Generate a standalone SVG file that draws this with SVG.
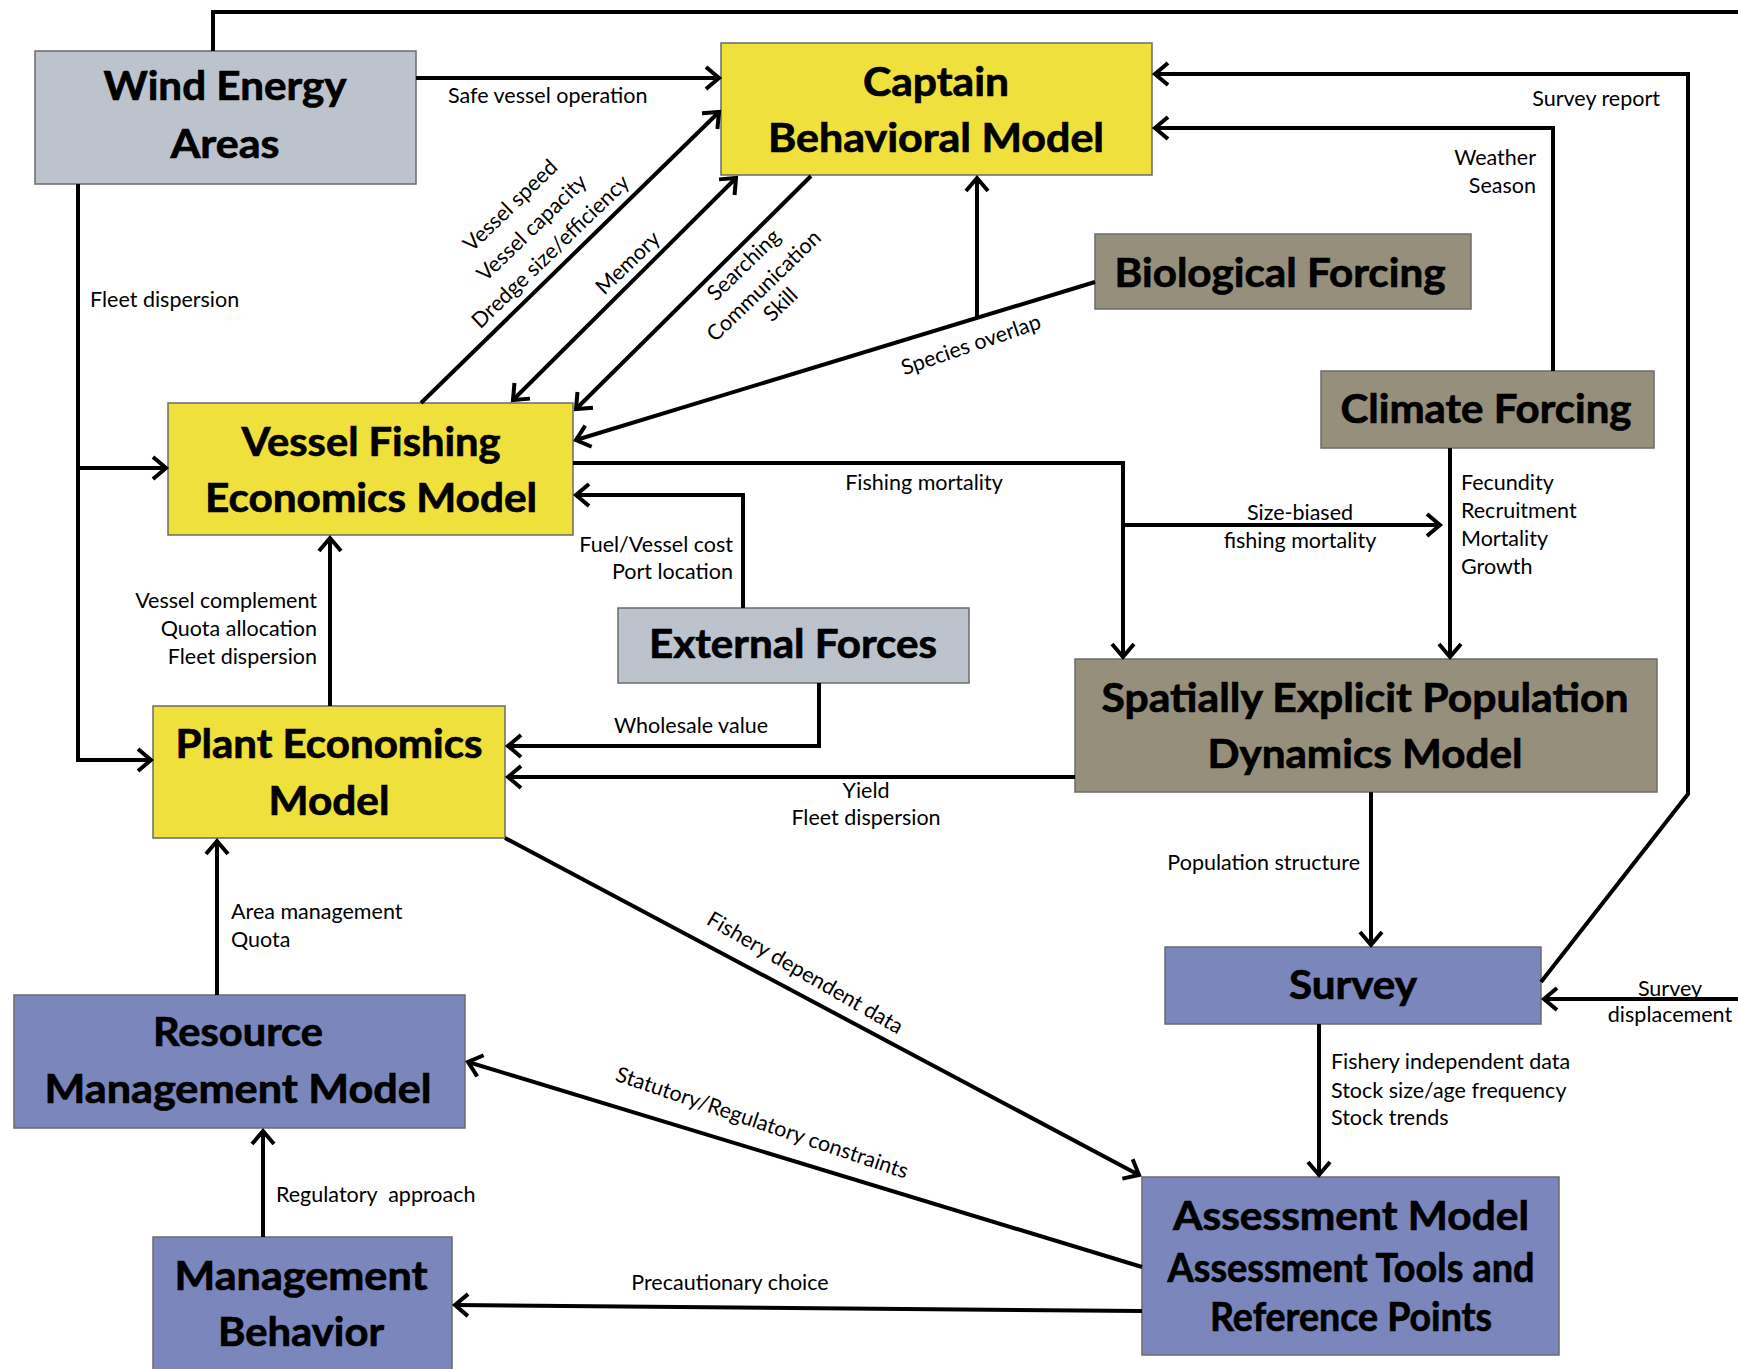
<svg xmlns="http://www.w3.org/2000/svg" width="1738" height="1369" viewBox="0 0 1738 1369">
<style>
.box{stroke:#6b6b6b;stroke-width:1.5}
.yel{fill:#efe03b}
.gry{fill:#bcc3cc}
.kha{fill:#968f7c}
.blu{fill:#7a86bc}
.t{font-family:Lato,"Liberation Sans",sans-serif;font-weight:bold;font-size:40px;fill:#000;stroke:#000;stroke-width:0.7;text-anchor:middle}
.l{font-family:Lato,"Liberation Sans",sans-serif;font-size:21.5px;fill:#000;white-space:pre}
.m{text-anchor:middle}
.e{text-anchor:end}
.c{fill:none;stroke:#000;stroke-width:4}
.ca{fill:none;stroke:#000;stroke-width:4;marker-end:url(#a)}
</style>
<defs>
<marker id="a" markerUnits="userSpaceOnUse" markerWidth="40" markerHeight="40" viewBox="-20 -20 40 40" refX="0" refY="0" orient="auto-start-reverse" overflow="visible">
<path d="M-13,-11 L0,0 L-13,11" fill="none" stroke="#000" stroke-width="4"/>
</marker>
</defs>
<rect width="1738" height="1369" fill="#fff"/>

<g id="wind"><rect class="box gry" x="35" y="51" width="381" height="133"/>
<text class="t" x="225" y="100" textLength="243" lengthAdjust="spacingAndGlyphs">Wind Energy</text>
<text class="t" x="225" y="158" textLength="109" lengthAdjust="spacingAndGlyphs">Areas</text></g>

<g id="captain"><rect class="box yel" x="721" y="43" width="431" height="132"/>
<text class="t" x="936" y="96" textLength="146" lengthAdjust="spacingAndGlyphs">Captain</text>
<text class="t" x="936" y="152" textLength="336" lengthAdjust="spacingAndGlyphs">Behavioral Model</text></g>

<g id="bio"><rect class="box kha" x="1095" y="234" width="376" height="75"/>
<text class="t" x="1280" y="287" textLength="331" lengthAdjust="spacingAndGlyphs">Biological Forcing</text></g>

<g id="climate"><rect class="box kha" x="1321" y="371" width="333" height="77"/>
<text class="t" x="1486" y="423" textLength="291" lengthAdjust="spacingAndGlyphs">Climate Forcing</text></g>

<g id="vessel"><rect class="box yel" x="168" y="403" width="405" height="132"/>
<text class="t" x="371" y="456" textLength="259" lengthAdjust="spacingAndGlyphs">Vessel Fishing</text>
<text class="t" x="371" y="512" textLength="332" lengthAdjust="spacingAndGlyphs">Economics Model</text></g>

<g id="external"><rect class="box gry" x="618" y="608" width="351" height="75"/>
<text class="t" x="793" y="658" textLength="288" lengthAdjust="spacingAndGlyphs">External Forces</text></g>

<g id="plant"><rect class="box yel" x="153" y="706" width="352" height="132"/>
<text class="t" x="329" y="758" textLength="307" lengthAdjust="spacingAndGlyphs">Plant Economics</text>
<text class="t" x="329" y="815" textLength="121" lengthAdjust="spacingAndGlyphs">Model</text></g>

<g id="spatial"><rect class="box kha" x="1075" y="659" width="582" height="133"/>
<text class="t" x="1365" y="712" textLength="527" lengthAdjust="spacingAndGlyphs">Spatially Explicit Population</text>
<text class="t" x="1365" y="768" textLength="315" lengthAdjust="spacingAndGlyphs">Dynamics Model</text></g>

<g id="survey"><rect class="box blu" x="1165" y="947" width="376" height="77"/>
<text class="t" x="1353" y="999" textLength="128" lengthAdjust="spacingAndGlyphs">Survey</text></g>

<g id="assessment"><rect class="box blu" x="1142" y="1177" width="417" height="178"/>
<text class="t" x="1351" y="1230" textLength="356" lengthAdjust="spacingAndGlyphs">Assessment Model</text>
<text class="t" x="1351" y="1282" textLength="367" lengthAdjust="spacingAndGlyphs">Assessment Tools and</text>
<text class="t" x="1351" y="1331" textLength="282" lengthAdjust="spacingAndGlyphs">Reference Points</text></g>

<g id="resource"><rect class="box blu" x="14" y="995" width="451" height="133"/>
<text class="t" x="238" y="1046" textLength="170" lengthAdjust="spacingAndGlyphs">Resource</text>
<text class="t" x="238" y="1103" textLength="387" lengthAdjust="spacingAndGlyphs">Management Model</text></g>

<g id="mgmtbehavior"><rect class="box blu" x="153" y="1237" width="299" height="140"/>
<text class="t" x="301" y="1290" textLength="253" lengthAdjust="spacingAndGlyphs">Management</text>
<text class="t" x="301" y="1346" textLength="166" lengthAdjust="spacingAndGlyphs">Behavior</text></g>

<g id="connectors">
<path class="c" d="M213,51 V12 H1738"/>
<path class="ca" d="M416,78 H719"/>
<path class="ca" d="M78,184 V760 H151"/>
<path class="ca" d="M78,468 H166"/>
<path class="ca" d="M421,403 L719,112"/>
<path class="ca" d="M513,400 L736,178" style="marker-start:url(#a)"/>
<path class="ca" d="M811,176 L576,409"/>
<path class="ca" d="M1095,282 L576,440"/>
<path class="ca" d="M977,318 V178"/>
<path class="ca" d="M1541,982 L1688,794 V74 H1155"/>
<path class="ca" d="M1553,371 V128 H1155"/>
<path class="ca" d="M573,463 H1123 V657"/>
<path class="ca" d="M1123,525 H1440"/>
<path class="ca" d="M1450,448 V657"/>
<path class="ca" d="M743,608 V495 H576"/>
<path class="ca" d="M819,683 V746 H508"/>
<path class="ca" d="M1075,777 H508"/>
<path class="ca" d="M330,706 V538"/>
<path class="ca" d="M1371,792 V945"/>
<path class="ca" d="M1738,999 H1544"/>
<path class="ca" d="M1319,1024 V1175"/>
<path class="ca" d="M505,838 L1139,1175"/>
<path class="ca" d="M1142,1267 L468,1062"/>
<path class="ca" d="M1142,1311 L455,1305"/>
<path class="ca" d="M217,995 V841"/>
<path class="ca" d="M263,1237 V1131"/>
</g>

<g id="labels">
<text class="l" x="448" y="103">Safe vessel operation</text>
<text class="l" x="90" y="307">Fleet dispersion</text>
<text class="l e" x="1660" y="106">Survey report</text>
<text class="l e" x="1536" y="165">Weather</text>
<text class="l e" x="1536" y="193">Season</text>
<text class="l m" x="924" y="490">Fishing mortality</text>
<text class="l m" x="1300" y="520">Size-biased</text>
<text class="l m" x="1300" y="548">fishing mortality</text>
<text class="l" x="1461" y="490">Fecundity</text>
<text class="l" x="1461" y="518">Recruitment</text>
<text class="l" x="1461" y="546">Mortality</text>
<text class="l" x="1461" y="574">Growth</text>
<text class="l e" x="733" y="552">Fuel/Vessel cost</text>
<text class="l e" x="733" y="579">Port location</text>
<text class="l e" x="317" y="608">Vessel complement</text>
<text class="l e" x="317" y="636">Quota allocation</text>
<text class="l e" x="317" y="664">Fleet dispersion</text>
<text class="l m" x="691" y="733">Wholesale value</text>
<text class="l m" x="866" y="798">Yield</text>
<text class="l m" x="866" y="825">Fleet dispersion</text>
<text class="l e" x="1360" y="870">Population structure</text>
<text class="l m" x="1670" y="996">Survey</text>
<text class="l m" x="1670" y="1022">displacement</text>
<text class="l" x="1331" y="1069">Fishery independent data</text>
<text class="l" x="1331" y="1098">Stock size/age frequency</text>
<text class="l" x="1331" y="1125">Stock trends</text>
<text class="l" x="231" y="919">Area management</text>
<text class="l" x="231" y="947">Quota</text>
<text class="l" x="276" y="1202">Regulatory  approach</text>
<text class="l m" x="730" y="1290">Precautionary choice</text>
<g transform="translate(532,228) rotate(-44)">
<text class="l m" x="0" y="-24">Vessel speed</text>
<text class="l m" x="0" y="7">Vessel capacity</text>
<text class="l m" x="-3" y="37">Dredge size/efficiency</text>
</g>
<text class="l m" transform="translate(628,263) rotate(-44)" y="7">Memory</text>
<g transform="translate(764,286) rotate(-44)">
<text class="l m" x="0" y="-22">Searching</text>
<text class="l m" x="0" y="7">Communication</text>
<text class="l m" x="-1" y="32">Skill</text>
</g>
<text class="l m" transform="translate(971,345) rotate(-19)" y="7">Species overlap</text>
<text class="l m" transform="translate(805,973) rotate(30)" y="7">Fishery dependent data</text>
<text class="l m" transform="translate(762,1123) rotate(18.7)" y="7">Statutory/Regulatory constraints</text>
</g>
</svg>
